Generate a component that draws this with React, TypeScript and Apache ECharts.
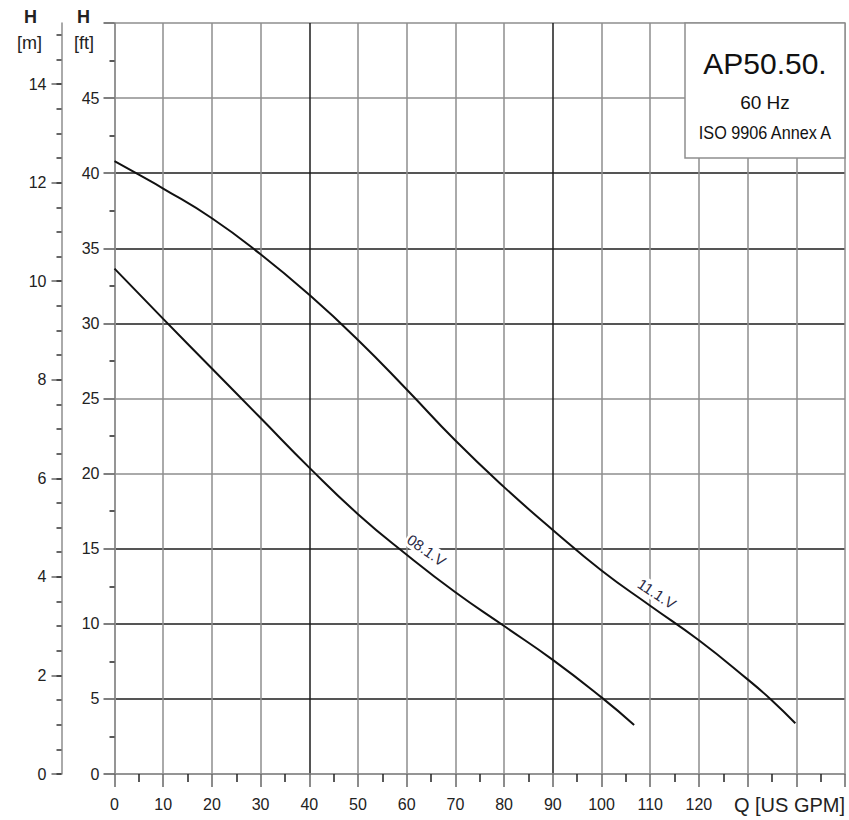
import { useEffect, useRef } from "react";
import * as echarts from "echarts";

// Pump curves: flow Q [US GPM] vs head H [ft]
const flow111V = [0, 5, 10, 20, 30, 40, 50, 60, 70, 80, 90, 100, 110, 120, 130, 135, 139.8];
const head111V = [40.8, 39.9, 38.98, 37.0, 34.6, 31.9, 28.9, 25.6, 22.2, 19.1, 16.25, 13.55, 11.2, 8.9, 6.3, 4.9, 3.38];
const flow081V = [0, 10, 20, 30, 40, 50, 60, 70, 80, 90, 100, 106.7];
const head081V = [33.65, 30.3, 27.0, 23.7, 20.4, 17.3, 14.6, 12.1, 9.85, 7.6, 5.1, 3.27];

// Curve label anchors (Q, H ft)
const curveLabelNames = ["08.1.V", "11.1.V"];
const curveLabelQ = [64.1, 111.4];
const curveLabelH = [14.9, 12.0];
const curveLabelAngle = [-35, -33];

// Tick labels
const xTickLabels = [0, 10, 20, 30, 40, 50, 60, 70, 80, 90, 100, 110, 120];
const ftTickLabels = [0, 5, 10, 15, 20, 25, 30, 35, 40, 45];
const mTickLabels = [0, 2, 4, 6, 8, 10, 12, 14];
const mMinorTicks = [0, 0.5, 1, 1.5, 2, 2.5, 3, 3.5, 4, 4.5, 5, 5.5, 6, 6.5, 7, 7.5, 8, 8.5, 9, 9.5, 10, 10.5, 11, 11.5, 12, 12.5, 13, 13.5, 14, 14.5, 15];

const FT_PER_M = 3.28084;
const FT_MAX = 50;
const Q_MAX = 150;

const GRAY = "#8e8e8e";
const DARK = "#1c1c1c";
// per-gridline shading as in the reference sheet
const vGridColors = [GRAY, GRAY, GRAY, GRAY, DARK, GRAY, GRAY, GRAY, GRAY, DARK, GRAY, GRAY, GRAY, GRAY, GRAY, GRAY];
const hGridColors = [GRAY, DARK, DARK, DARK, GRAY, GRAY, DARK, DARK, DARK, GRAY, GRAY];

const FONT = "Liberation Sans, Arial, sans-serif";
const TXT = "#222";

export default function App() {
  const ref = useRef<HTMLDivElement>(null);
  useEffect(() => {
    if (!ref.current) return;
    const chart = echarts.init(ref.current, undefined, { renderer: "svg" });
    const upper = flow111V.map((q, i) => [q, head111V[i]]);
    const lower = flow081V.map((q, i) => [q, head081V[i]]);
    const mkLabel = (i: number) => ({
      coord: [curveLabelQ[i], curveLabelH[i]],
      symbol: "circle",
      symbolSize: 0,
      label: {
        show: true,
        position: "inside",
        formatter: curveLabelNames[i],
        rotate: curveLabelAngle[i],
        fontSize: 15,
        fontFamily: FONT,
        color: "#2a2a44",
        backgroundColor: "#fff",
        padding: [1, 2],
      },
    });
    chart.setOption({
      animation: false,
      backgroundColor: "#fff",
      grid: { left: 114.5, right: 4, top: 23, bottom: 46, containLabel: false },
      xAxis: {
        type: "value",
        min: 0,
        max: Q_MAX,
        interval: 10,
        axisLine: { show: true, lineStyle: { color: GRAY, width: 1.5 } },
        axisTick: { show: true, length: 13, lineStyle: { color: "#666", width: 1.5 } },
        minorTick: { show: true, splitNumber: 2, length: 8, lineStyle: { color: "#222", width: 1.5 } },
        axisLabel: {
          margin: 22,
          fontSize: 16,
          fontFamily: FONT,
          color: TXT,
          formatter: (v: number) => (xTickLabels.includes(v) ? String(v) : ""),
        },
        splitLine: { show: true, lineStyle: { color: vGridColors, width: 1.5 } },
      },
      yAxis: [
        {
          type: "value",
          min: 0,
          max: FT_MAX,
          interval: 5,
          position: "left",
          axisLine: { show: true, lineStyle: { color: GRAY, width: 1.5 } },
          axisTick: { show: true, length: 11, lineStyle: { color: "#555", width: 1.5 } },
          minorTick: { show: true, splitNumber: 2, length: 5, lineStyle: { color: "#222", width: 1.5 } },
          axisLabel: {
            margin: 15,
            fontSize: 16,
            fontFamily: FONT,
            color: TXT,
            formatter: (v: number) => (ftTickLabels.includes(v) ? String(v) : ""),
          },
          splitLine: { show: true, lineStyle: { color: hGridColors, width: 1.5 } },
        },
        {
          type: "value",
          min: 0,
          max: FT_MAX / FT_PER_M,
          position: "left",
          offset: 53,
          axisLine: { show: true, lineStyle: { color: GRAY, width: 1.5 } },
          axisTick: { show: true, length: 10, customValues: mTickLabels, lineStyle: { color: "#666", width: 1.5 } },
          axisLabel: { customValues: mTickLabels, margin: 15, fontSize: 16, fontFamily: FONT, color: TXT },
          splitLine: { show: false },
        },
        {
          type: "value",
          min: 0,
          max: FT_MAX / FT_PER_M,
          position: "left",
          offset: 53,
          axisLine: { show: false },
          axisTick: { show: true, length: 5, customValues: mMinorTicks, lineStyle: { color: "#333", width: 1.5 } },
          axisLabel: { show: false },
          splitLine: { show: false },
        },
      ],
      series: [
        {
          name: "11.1.V",
          type: "line",
          data: upper,
          smooth: 0.5,
          showSymbol: false,
          lineStyle: { color: "#111", width: 2 },
          markPoint: { data: [mkLabel(1)], animation: false },
          z: 5,
        },
        {
          name: "08.1.V",
          type: "line",
          data: lower,
          smooth: 0.5,
          showSymbol: false,
          lineStyle: { color: "#111", width: 2 },
          markPoint: { data: [mkLabel(0)], animation: false },
          z: 5,
        },
      ],
      graphic: [
        { type: "text", left: 24, top: 8, z: 50, style: { text: "H", font: `bold 18px ${FONT}`, fill: TXT } },
        { type: "text", left: 17, top: 34, z: 50, style: { text: "[m]", font: `18px ${FONT}`, fill: TXT } },
        { type: "text", left: 77, top: 8, z: 50, style: { text: "H", font: `bold 18px ${FONT}`, fill: TXT } },
        { type: "text", left: 74, top: 34, z: 50, style: { text: "[ft]", font: `18px ${FONT}`, fill: TXT } },
        {
          type: "text",
          right: 4,
          top: 795,
          z: 50,
          style: { text: "Q [US GPM]", font: `20px ${FONT}`, fill: TXT },
        },
        {
          type: "group",
          z: 100,
          children: [
            {
              type: "rect",
              shape: { x: 685, y: 23, width: 160, height: 135 },
              style: { fill: "#fff", stroke: GRAY, lineWidth: 1.5 },
              z: 100,
            },
            {
              type: "text",
              x: 765,
              y: 63,
              z: 101,
              style: { text: "AP50.50.", font: `30px ${FONT}`, fill: "#111", align: "center", verticalAlign: "middle" },
            },
            {
              type: "text",
              x: 765,
              y: 102,
              z: 101,
              style: { text: "60 Hz", font: `19px ${FONT}`, fill: "#111", align: "center", verticalAlign: "middle" },
            },
            {
              type: "text",
              x: 765,
              y: 133,
              z: 101,
              scaleX: 0.9,
              style: { text: "ISO 9906 Annex A", font: `18px ${FONT}`, fill: "#111", align: "center", verticalAlign: "middle" },
            },
          ],
        },
      ],
    });
    return () => chart.dispose();
  }, []);
  return (
    <div
      ref={ref}
      style={{ position: "absolute", left: 0, top: 0, width: 849, height: 820 }}
    />
  );
}
